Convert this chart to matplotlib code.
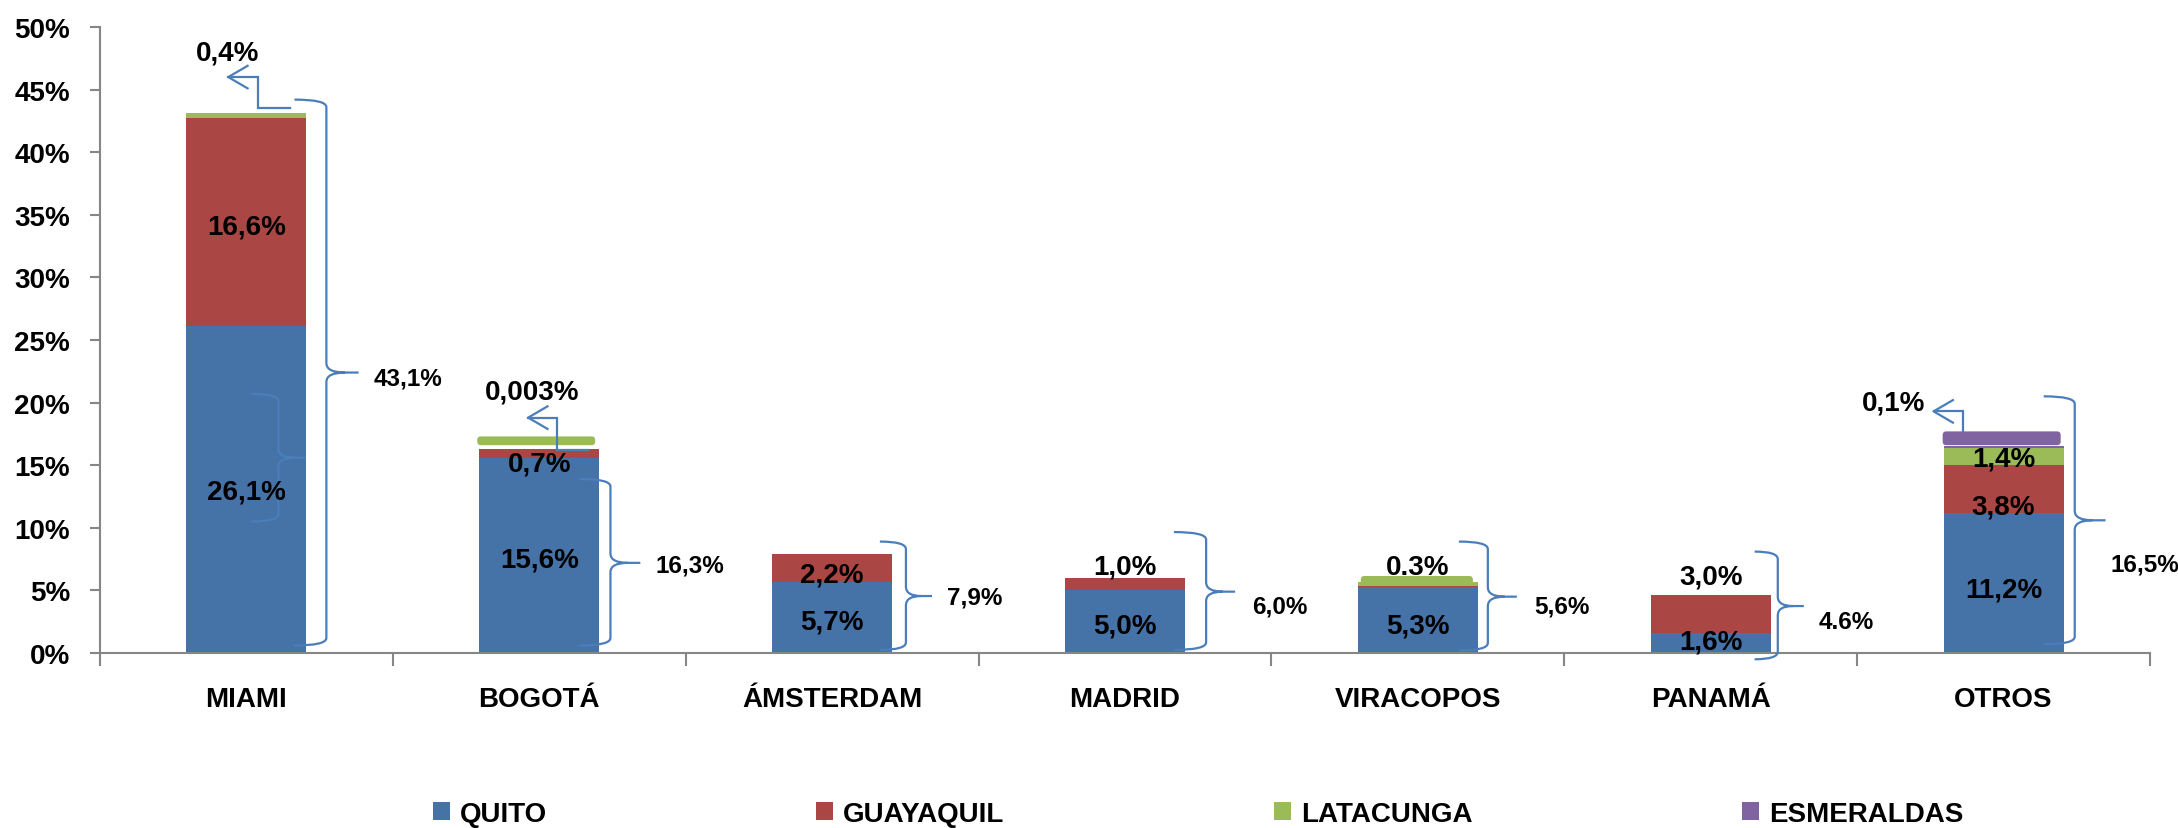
import matplotlib
matplotlib.use("Agg")
import matplotlib.pyplot as plt
import numpy as np
from matplotlib.path import Path
from matplotlib.patches import PathPatch, FancyBboxPatch

plt.rcParams['font.family'] = ['Liberation Sans', 'DejaVu Sans']
plt.rcParams['font.weight'] = 'bold'

# ---------------- data ----------------
categories = ["MIAMI", "BOGOTÁ", "ÁMSTERDAM", "MADRID", "VIRACOPOS", "PANAMÁ", "OTROS"]
series_names = ["QUITO", "GUAYAQUIL", "LATACUNGA", "ESMERALDAS"]
quito = [26.1, 15.6, 5.7, 5.0, 5.3, 1.6, 11.2]
guayaquil = [16.6, 0.7, 2.2, 1.0, 0.05, 3.0, 3.8]
latacunga = [0.4, 0.003, 0.0, 0.0, 0.3, 0.0, 1.4]
esmeraldas = [0.0, 0.0, 0.0, 0.0, 0.0, 0.0, 0.1]
totals_text = ["43,1%", "16,3%", "7,9%", "6,0%", "5,6%", "4.6%", "16,5%"]
yticks = [0, 5, 10, 15, 20, 25, 30, 35, 40, 45, 50]

# segment labels: (category, text, y)
segment_labels = [
    (0, "26,1%", 12.9), (0, "16,6%", 34.1),
    (1, "15,6%", 7.5), (1, "0,7%", 15.1),
    (2, "5,7%", 2.5), (2, "2,2%", 6.3),
    (3, "5,0%", 2.2), (3, "1,0%", 6.9),
    (4, "5,3%", 2.2), (4, "0.3%", 6.9),
    (5, "1,6%", 0.9), (5, "3,0%", 6.1),
    (6, "11,2%", 5.1), (6, "3,8%", 11.7), (6, "1,4%", 15.5),
]

colors = ["#4572A7", "#AA4643", "#9BBB59", "#8064A2"]
brace_color = "#4A7EBB"

# brace layout per category: x_start, x_body, x_tip (offsets), y_top, y_bot, y_tip, label x offset, label y
brace_layout = [
    (0.164, 0.273, 0.383, 44.2, 0.6, 22.4, 0.434, 22.0),
    (0.137, 0.243, 0.345, 13.9, 0.6, 7.2, 0.396, 7.0),
    (0.163, 0.252, 0.341, 8.9, 0.25, 4.55, 0.393, 4.5),
    (0.167, 0.277, 0.376, 9.66, 0.25, 4.9, 0.434, 3.75),
    (0.140, 0.239, 0.338, 8.9, 0.2, 4.5, 0.396, 3.75),
    (0.150, 0.229, 0.318, 8.1, -0.5, 3.75, 0.369, 2.5),
    (0.137, 0.243, 0.348, 20.5, 0.7, 10.6, 0.364, 7.1),
]

fig = plt.figure(figsize=(21.78, 8.29), dpi=100)
ax = fig.add_axes([100 / 2178, 1 - 654 / 829, (2150 - 100) / 2178, (654 - 28) / 829])

x = np.arange(len(categories))
bar_w = 0.41
bottom = np.zeros(len(categories))
series = [quito, guayaquil, latacunga, esmeraldas]
for name, vals, c in zip(series_names, series, colors):
    ax.bar(x, vals, bar_w, bottom=bottom, color=c, label=name, edgecolor='none', zorder=2)
    bottom = bottom + np.array(vals)

# highlight shapes on tiny segments
def highlight(ci, y0, y1, x0, x1, color):
    p = FancyBboxPatch((ci + x0, y0), x1 - x0, y1 - y0,
                       boxstyle="round,pad=0,rounding_size=0.012",
                       mutation_aspect=25, fc=color, ec='none', zorder=3)
    ax.add_patch(p)

highlight(1, 16.6, 17.3, -0.212, 0.191, colors[2])
highlight(4, 5.45, 6.15, -0.195, 0.188, colors[2])
highlight(6, 16.6, 17.7, -0.208, 0.195, colors[3])

fs = 20
for ci, txt, yy in segment_labels:
    ax.text(ci, yy, txt, ha='center', va='center', fontsize=fs, fontweight='bold', zorder=5)

# braces
def brace(ci, xs, xb, xt, yt, yb, ym, r1=0.6, r2=0.75):
    xm = xb + 0.58 * (xt - xb)
    xs, xb, xt, xm = ci + xs, ci + xb, ci + xt, ci + xm
    verts = [(xs, yt), (xb, yt), (xb, yt - r1), (xb, ym + r2), (xb, ym), (xm, ym), (xt, ym),
             (xm, ym), (xb, ym), (xb, ym - r2), (xb, yb + r1), (xb, yb), (xs, yb)]
    codes = [Path.MOVETO, Path.CURVE3, Path.CURVE3, Path.LINETO, Path.CURVE3, Path.CURVE3, Path.LINETO,
             Path.MOVETO, Path.CURVE3, Path.CURVE3, Path.LINETO, Path.CURVE3, Path.CURVE3]
    ax.add_patch(PathPatch(Path(verts, codes), fc='none', ec=brace_color, lw=1.6,
                           zorder=4, clip_on=False))

for ci, (xs, xb, xt, yt, yb, ym, lx, ly) in enumerate(brace_layout):
    brace(ci, xs, xb, xt, yt, yb, ym)
    ax.text(ci + lx, ly, totals_text[ci], ha='left', va='center', fontsize=17.5,
            fontweight='bold', clip_on=False, zorder=5)

# stray inner brace on MIAMI
brace(0, 0.017, 0.109, 0.201, 20.7, 10.5, 15.6)

# callouts
def callout(ci, tip_x, tip_y, path_pts, txt, tx, ty):
    px = [ci + tip_x] + [ci + p[0] for p in path_pts]
    py = [tip_y] + [p[1] for p in path_pts]
    ax.plot(px, py, color=brace_color, lw=1.6, zorder=4, clip_on=False, solid_joinstyle='miter')
    ax.plot([ci + tip_x + 0.066, ci + tip_x, ci + tip_x + 0.066],
            [tip_y + 0.9, tip_y, tip_y - 0.9], color=brace_color, lw=1.6, zorder=4, clip_on=False)
    ax.text(ci + tx, ty, txt, ha='center', va='center', fontsize=fs, fontweight='bold', zorder=5)

callout(0, -0.062, 46.0, [(0.041, 46.0), (0.041, 43.5), (0.15, 43.5)], "0,4%", -0.065, 48.0)
callout(1, -0.038, 18.8, [(0.061, 18.8), (0.061, 16.2), (0.167, 16.2)], "0,003%", -0.024, 20.9)
callout(6, -0.239, 19.3, [(-0.14, 19.3), (-0.14, 17.7)], "0,1%", -0.376, 20.0)

# axes styling
ax.set_xlim(-0.5, len(categories) - 0.5)
ax.set_ylim(0, 50)
ax.set_yticks(yticks)
ax.set_yticklabels([f"{t}%" for t in yticks], fontsize=fs, fontweight='bold')
ax.set_xticks(np.arange(-0.5, len(categories), 1.0))
ax.set_xticklabels([])
ax.set_xticks(x, minor=True)
ax.set_xticklabels(categories, minor=True, fontsize=fs, fontweight='bold')
ax.tick_params(axis='x', which='major', length=9, width=1.5, color='#868686', direction='out')
ax.tick_params(axis='x', which='minor', length=0, pad=24)
ax.tick_params(axis='y', which='major', length=7.5, width=1.5, color='#868686', direction='out', pad=14)
for s in ['top', 'right']:
    ax.spines[s].set_visible(False)
for s in ['left', 'bottom']:
    ax.spines[s].set_color('#868686')
    ax.spines[s].set_linewidth(1.5)

leg = fig.legend(loc='center', bbox_to_anchor=(0.550, 0.017), ncol=4, frameon=False,
                 fontsize=fs, handlelength=0.61, handleheight=0.65, handletextpad=0.36,
                 columnspacing=9.7, borderpad=0, prop={'weight': 'bold', 'size': fs})

fig.savefig("out.png", dpi=100)
